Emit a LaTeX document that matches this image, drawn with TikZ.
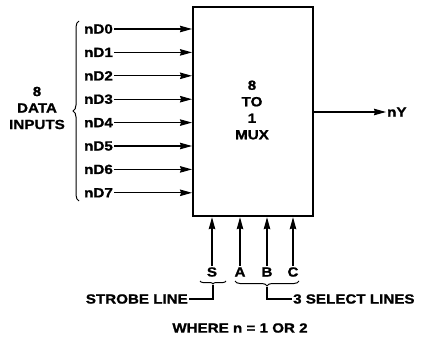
\documentclass[tikz,border=0pt]{standalone}
\usepackage{fontspec}
\setmainfont{Liberation Sans}[FakeStretch=1.14, BoldFeatures={FakeBold=1.2}]
\usetikzlibrary{arrows.meta,decorations.pathreplacing}
\begin{document}
\begin{tikzpicture}[x=1pt,y=-1pt,
  lbl/.style={font=\bfseries\fontsize{13.3}{16.5}\selectfont, inner sep=1pt},
  sig/.style={line width=1.1pt, -{Stealth[length=12pt,width=6.5pt,inset=1pt]}},
  brc/.style={line width=1pt, decorate, decoration={brace,amplitude=#1}},
  lead/.style={line width=1.1pt}]
\useasboundingbox (0,0) rectangle (423,342);
\node[draw, line width=2.2pt, inner sep=0pt, anchor=north west,
      minimum width=120pt, minimum height=209pt] (mux) at (192,6) {};
\node[lbl, align=center] (mtxt) at (252,110) {8\\TO\\1\\MUX};
% inputs
\foreach \i in {0,...,7}{
  \node[lbl, anchor=west] (d\i) at (83,{29+23.4*\i}) {nD\i};
  \draw[sig] (d\i.east) -- (d\i.east -| mux.west);
}
\draw[brc=6pt] (79,201) -- (79,21);
\node[lbl, align=center] (data) at (37,108) {8\\DATA\\INPUTS};
% output
\node[lbl, anchor=west] (ny) at (386,112) {nY};
\draw[sig] (mux.east |- ny.west) -- (ny.west);
% select / strobe
\node[lbl] (s) at (212,272) {S};
\node[lbl] (a) at (240,272) {A};
\node[lbl] (b) at (267,272) {B};
\node[lbl] (c) at (293,272) {C};
\foreach \n in {s,a,b,c}{
  \draw[sig] (\n.north) -- (\n.north |- mux.south);
}
\draw[brc=3pt] (226,281) -- (200,281);
\coordinate (stip) at (213,285);
\draw[brc=5pt] (299,281) -- (235,281);
\coordinate (ctip) at (267,287);
\node[lbl, anchor=east] (strobe) at (189,299) {STROBE LINE};
\node[lbl, anchor=west] (sel) at (292,299) {3 SELECT LINES};
\draw[lead] (stip) |- (strobe.east);
\draw[lead] (ctip) |- (sel.west);
\node[lbl] (where) at (240,328) {WHERE n = 1 OR 2};
\end{tikzpicture}
\end{document}
